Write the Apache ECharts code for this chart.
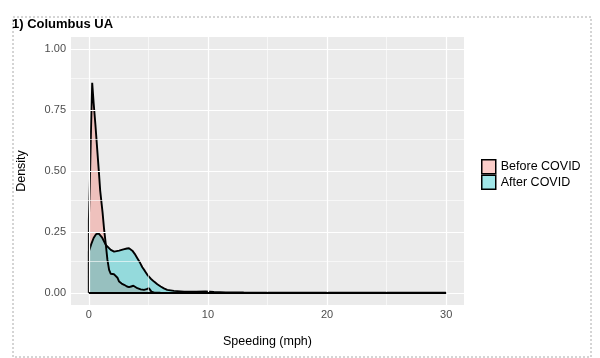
<!DOCTYPE html>
<html>
<head>
<meta charset="utf-8">
<script src="https://cdn.jsdelivr.net/npm/echarts@6/dist/echarts.min.js"></script>
<style>
html,body{margin:0;padding:0;background:#fff;}
#chart{width:600px;height:358px;}
</style>
</head>
<body>
<div id="chart"></div>
<script>
// ---- data ----
const titleText = '1) Columbus UA';
const seriesNames = ['Before COVID', 'After COVID'];

const beforeSpeed   = [0, 0, 0.08, 0.17, 0.28, 0.4, 0.55, 0.7, 0.85, 0.95, 1.15, 1.28, 1.42, 1.56, 1.7, 1.84, 1.98, 2.12, 2.26, 2.4, 2.54, 2.75, 2.96, 3.2, 3.37, 3.55, 3.74, 3.9, 4.07, 4.35, 4.63, 4.85, 5.05, 5.25, 5.5, 6];
const beforeDensity = [0, 0.30, 0.44, 0.65, 0.862, 0.78, 0.69, 0.59, 0.49, 0.42, 0.33, 0.26, 0.20, 0.135, 0.094, 0.078, 0.074, 0.076, 0.077, 0.062, 0.046, 0.038, 0.033, 0.026, 0.023, 0.026, 0.029, 0.024, 0.019, 0.014, 0.012, 0.015, 0.019, 0.005, 0.001, 0];

const afterSpeed   = [0, 0, 0.2, 0.4, 0.6, 0.8, 1.1, 1.42, 1.84, 2.12, 2.54, 2.9, 3.2, 3.37, 3.65, 3.85, 4.07, 4.3, 4.49, 4.7, 4.91, 5.2, 5.47, 5.75, 6.03, 6.3, 6.58, 7.14, 8, 9, 9.8, 10.5, 11.5, 13, 20, 30, 30];
const afterDensity = [0, 0.17, 0.20, 0.225, 0.24, 0.245, 0.228, 0.197, 0.176, 0.169, 0.173, 0.178, 0.182, 0.183, 0.173, 0.16, 0.142, 0.123, 0.105, 0.09, 0.074, 0.058, 0.046, 0.035, 0.026, 0.018, 0.012, 0.008, 0.005, 0.005, 0.006, 0.004, 0.002, 0.001, 0.0005, 0.0005, 0];

const xTicks = [0, 10, 20, 30];
const xMinorTicks = [5, 15, 25];
const yTicks = [0, 0.25, 0.5, 0.75, 1];
const yMinorTicks = [0.125, 0.375, 0.625, 0.875];

const xLabel = 'Speeding (mph)';
const yLabel = 'Density';

// ---- build ----
const zip = (a, b) => a.map((v, i) => [v, b[i]]);
const fillColors = ['rgba(248,118,109,0.36)', 'rgba(0,191,196,0.37)'];
const keyColors = ['rgba(248,118,109,0.36)', 'rgba(0,191,196,0.37)'];

const gridLines = [];
yMinorTicks.forEach(v => gridLines.push({yAxis: v, lineStyle: {color: '#fff', width: 0.6, type: 'solid'}}));
xMinorTicks.forEach(v => gridLines.push({xAxis: v, lineStyle: {color: '#fff', width: 0.6, type: 'solid'}}));
yTicks.forEach(v => gridLines.push({yAxis: v, lineStyle: {color: '#fff', width: 1.2, type: 'solid'}}));
xTicks.forEach(v => gridLines.push({xAxis: v, lineStyle: {color: '#fff', width: 1.2, type: 'solid'}}));

const chart = echarts.init(document.getElementById('chart'), null, {renderer: 'canvas'});
chart.setOption({
  animation: false,
  backgroundColor: '#fff',
  textStyle: {fontFamily: 'Liberation Sans, Arial, sans-serif'},
  title: {
    text: titleText, left: 12, top: 18, padding: 0,
    textStyle: {fontSize: 13, fontWeight: 'bold', color: '#000', fontFamily: 'Liberation Sans, Arial, sans-serif'}
  },
  graphic: [{
    type: 'rect', left: 10.5, top: 14.5, silent: true, z: -10,
    shape: {width: 578, height: 340},
    style: {fill: 'none', stroke: '#aaa', lineWidth: 1, lineDash: [2, 2]}
  }],
  legend: {
    orient: 'vertical', left: 481, top: 159, padding: 0, itemGap: 0,
    itemWidth: 14, itemHeight: 14,
    textStyle: {fontSize: 12.5, color: '#000', padding: [0, 0, 0, 0]},
    data: seriesNames.map((n, i) => ({
      name: n, icon: 'rect',
      itemStyle: {color: keyColors[i], borderColor: '#000', borderWidth: 1.5}
    }))
  },
  grid: {
    left: 71, right: 136, top: 37, bottom: 53,
    show: true, backgroundColor: '#EBEBEB', borderWidth: 0
  },
  xAxis: {
    type: 'value', min: -1.5, max: 31.5,
    name: xLabel, nameLocation: 'middle', nameGap: 30,
    nameTextStyle: {fontSize: 12.5, color: '#000'},
    axisLine: {show: false},
    axisTick: {show: true, length: 4, customValues: xTicks, lineStyle: {color: '#333'}},
    axisLabel: {customValues: xTicks, color: '#4D4D4D', fontSize: 11, margin: 4},
    splitLine: {show: false}
  },
  yAxis: {
    type: 'value', min: -0.05, max: 1.05,
    name: yLabel, nameLocation: 'middle', nameGap: 43, nameRotate: 90,
    nameTextStyle: {fontSize: 12.5, color: '#000'},
    axisLine: {show: false},
    axisTick: {show: true, length: 4, customValues: yTicks, lineStyle: {color: '#333'}},
    axisLabel: {customValues: yTicks, color: '#4D4D4D', fontSize: 11, margin: 5,
      formatter: v => v.toFixed(2)},
    splitLine: {show: false}
  },
  series: [
    {
      name: '_grid', type: 'line', data: [], silent: true, z: 1,
      markLine: {silent: true, symbol: 'none', label: {show: false}, animation: false, data: gridLines}
    },
    {
      name: seriesNames[0], type: 'line', z: 2, showSymbol: false, symbol: 'none',
      data: zip(beforeSpeed, beforeDensity),
      lineStyle: {color: '#000', width: 1.9},
      itemStyle: {color: keyColors[0]},
      areaStyle: {color: fillColors[0], opacity: 1}
    },
    {
      name: seriesNames[1], type: 'line', z: 2, showSymbol: false, symbol: 'none',
      data: zip(afterSpeed, afterDensity),
      lineStyle: {color: '#000', width: 1.9},
      itemStyle: {color: keyColors[1]},
      areaStyle: {color: fillColors[1], opacity: 1},
      markLine: {silent: true, symbol: 'none', label: {show: false}, animation: false,
        data: [[{coord: [0, 0]}, {coord: [30, 0]}]],
        lineStyle: {color: '#000', width: 1.9, type: 'solid'}}
    }
  ]
});
</script>
</body>
</html>
